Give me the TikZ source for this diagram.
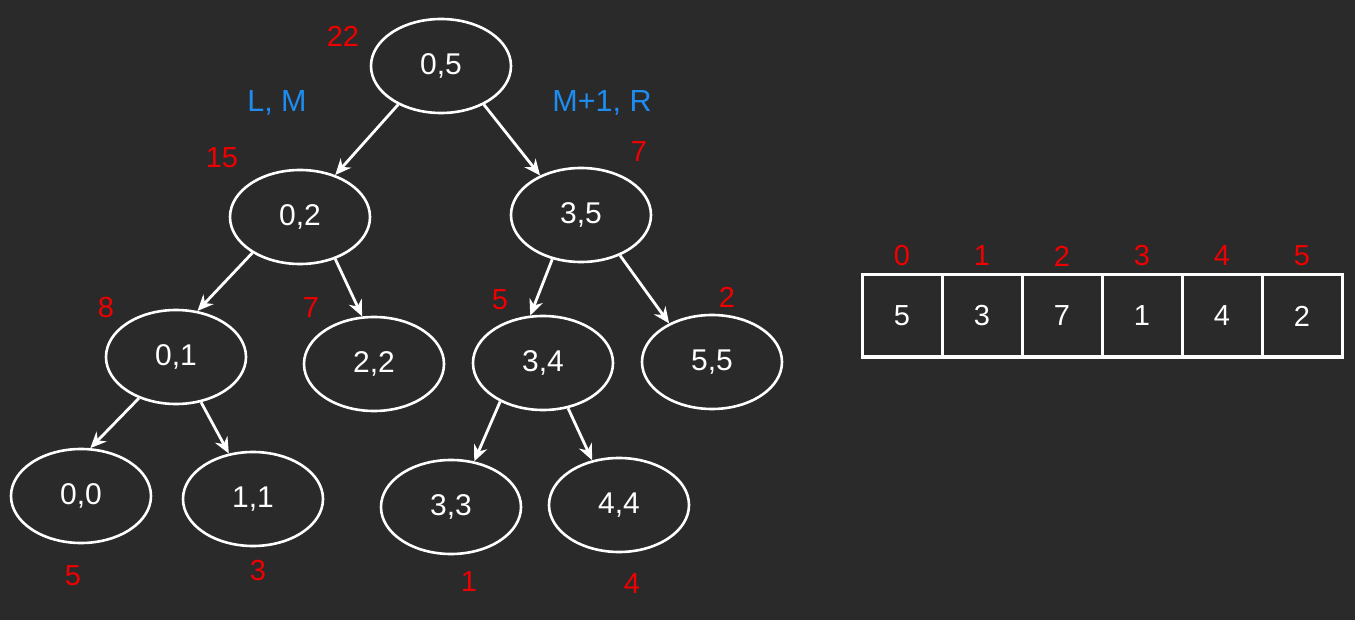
\documentclass[tikz,border=0pt]{standalone}
\usepackage{fontspec}
\setmainfont{Liberation Sans}
\usetikzlibrary{shapes.geometric, arrows.meta}
\definecolor{bgdark}{HTML}{2A2A2A}
\definecolor{sumred}{HTML}{F00000}
\definecolor{rangeblue}{HTML}{1E8CF0}
\tikzset{
  % --- Cay phan doan ------------------------------------------
  segnode/.style={draw=white, ellipse, line width=2.6pt, fill=bgdark,
    minimum width=140pt, minimum height=94pt, text=white,
    font=\fontsize{30}{34}\selectfont, inner sep=0pt},
  segedge/.style={-{Stealth[length=16pt, width=14pt]}, white, line width=2.8pt},
  sumlab/.style={text=sumred, font=\fontsize{29}{33}\selectfont, inner sep=0pt},
  rangelab/.style={text=rangeblue, font=\fontsize{30.5}{35}\selectfont, inner sep=0pt},
  % --- Mang ---------------------------------------------------
  cellbox/.style={draw=white, line width=3pt, fill=bgdark,
    minimum width=80pt, minimum height=82pt, text=white,
    font=\fontsize{29}{33}\selectfont, inner sep=0pt}
}
\begin{document}
\begin{tikzpicture}[x=1pt, y=-1pt]

  \fill[bgdark] (0,0) rectangle (1355,620);
  \useasboundingbox (0,0) rectangle (1355,620);

  % --- Cac nut cua cay -----------------------------------------
  \node[segnode] (n05) at (441,66)  {0,5};
  \node[segnode] (n02) at (300,217) {0,2};
  \node[segnode] (n35) at (581,215) {3,5};
  \node[segnode] (n01) at (176,357) {0,1};
  \node[segnode] (n22) at (374,364) {2,2};
  \node[segnode] (n34) at (543,363) {3,4};
  \node[segnode] (n55) at (712,362) {5,5};
  \node[segnode] (n00) at (81,496)  {0,0};
  \node[segnode] (n11) at (253,499) {1,1};
  \node[segnode] (n33) at (451,507) {3,3};
  \node[segnode] (n44) at (619,505) {4,4};

  % --- Canh cha -> con -------------------------------------------
  \draw[segedge] (n05.-138) -- (n02.50);
  \draw[segedge] (n05.-42)  -- (n35.136);
  \draw[segedge] (n02.-143) -- (n01.65);
  \draw[segedge] (n02.-50)  -- (n22.104);
  \draw[segedge] (n35.-123) -- (n34.105);
  \draw[segedge] (n35.-46)  -- (n55.138);
  \draw[segedge] (n01.-132) -- (n00.79);
  \draw[segedge] (n01.-61)  -- (n11.118);
  \draw[segedge] (n34.-138) -- (n33.63);
  \draw[segedge] (n34.-61)  -- (n44.121);

  % --- Tong cua tung doan -----------------------------------------
  \node[sumlab] (s05) at (343,36)  {22};
  \node[sumlab] (s02) at (222,158) {15};
  \node[sumlab] (s35) at (639,152) {7};
  \node[sumlab] (s01) at (106,308) {8};
  \node[sumlab] (s22) at (311,308) {7};
  \node[sumlab] (s34) at (500,300) {5};
  \node[sumlab] (s55) at (727,297) {2};
  \node[sumlab] (s00) at (73,576)  {5};
  \node[sumlab] (s11) at (258,571) {3};
  \node[sumlab] (s33) at (469,582) {1};
  \node[sumlab] (s44) at (632,584) {4};

  % --- Nhan chia doan ----------------------------------------------
  \node[rangelab] (lm) at (277,103) {L, M};
  \node[rangelab] (mr) at (602,103) {M+1, R};

  % --- Mang dau vao --------------------------------------------------
  \foreach \v [count=\i from 0] in {5,3,7,1,4,2} {
    \node[cellbox] (c\i) at (902+80*\i,316) {\v};
    \node[sumlab] (k\i) at (902+80*\i,256) {\i};
  }

\end{tikzpicture}
\end{document}
